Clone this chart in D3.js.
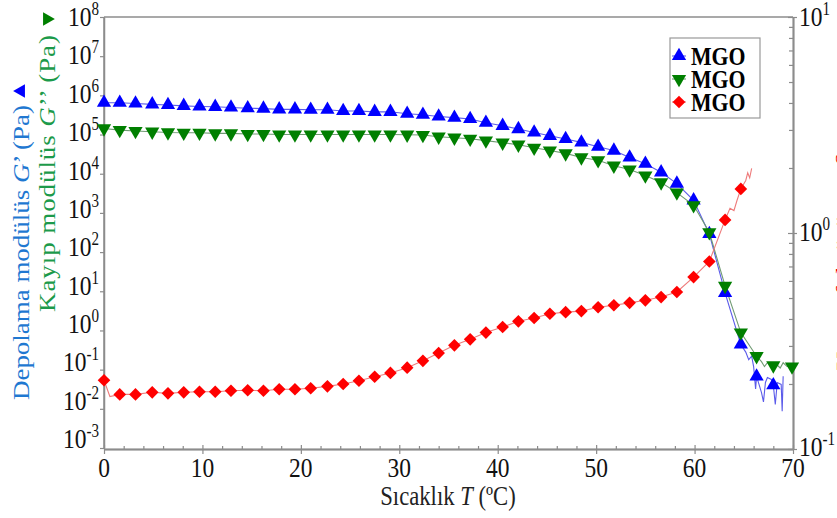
<!DOCTYPE html>
<html>
<head>
<meta charset="utf-8">
<script src="https://cdn.jsdelivr.net/npm/d3@7"></script>
<style>
html, body { margin: 0; padding: 0; background: #fff; }
svg { display: block; font-family: "Liberation Serif", "Times New Roman", serif; }
</style>
</head>
<body>
<div id="chart"></div>
<script>
// temperature of each measured point (deg C)
const temps = [0, 1.6, 3.2, 4.9, 6.5, 8.1, 9.7, 11.3, 12.9, 14.6, 16.2, 17.8, 19.4, 21.0, 22.7,
    24.3, 25.9, 27.5, 29.1, 30.8, 32.4, 34.0, 35.6, 37.2, 38.8, 40.5, 42.1, 43.7, 45.3, 46.9,
    48.5, 50.2, 51.8, 53.4, 55.0, 56.6, 58.2, 59.9, 61.5, 63.1, 64.7, 66.3, 68.0, 69.9];

// storage modulus G' (Pa)
const storageG = [6.5e5, 6.5e5, 6.2e5, 5.9e5, 5.7e5, 5.4e5, 5.2e5, 5.1e5, 4.9e5, 4.7e5, 4.6e5,
    4.4e5, 4.4e5, 4.3e5, 4.3e5, 4.0e5, 4.0e5, 3.8e5, 3.8e5, 3.4e5, 3.2e5, 2.9e5, 2.7e5, 2.5e5,
    2.0e5, 1.67e5, 1.38e5, 1.13e5, 9.3e4, 7.7e4, 6.3e4, 4.9e4, 3.9e4, 2.6e4, 1.8e4, 1.09e4,
    5.6e3, 2.1e3, 290, 9.1, 0.44, 0.067, 0.040];

// loss modulus G'' (Pa)
const lossG = [1.43e5, 1.30e5, 1.23e5, 1.18e5, 1.13e5, 1.11e5, 1.11e5, 1.07e5, 1.07e5, 1.03e5,
    1.03e5, 1.0e5, 1.0e5, 1.0e5, 1.0e5, 1.0e5, 1.0e5, 1.0e5, 1.0e5, 0.99e5, 0.97e5, 8.8e4, 8.3e4,
    7.8e4, 7.0e4, 6.2e4, 5.5e4, 4.6e4, 3.9e4, 3.3e4, 2.6e4, 2.2e4, 1.6e4, 1.28e4, 9.0e3, 6.0e3,
    3.3e3, 1.56e3, 320, 13.7, 0.88, 0.22, 0.128, 0.12];

// loss factor (right axis)
const tanDelta = [0.208, 0.179, 0.179, 0.183, 0.181, 0.183, 0.184, 0.184, 0.186, 0.187, 0.186,
    0.189, 0.189, 0.191, 0.195, 0.200, 0.207, 0.216, 0.225, 0.238, 0.256, 0.278, 0.302, 0.322,
    0.346, 0.367, 0.390, 0.404, 0.423, 0.430, 0.435, 0.453, 0.463, 0.475, 0.488, 0.505, 0.533,
    0.625, 0.738, 1.15, 1.60];

// raw points between markers (drawn on the line only)
const storageRawT = [65.2, 65.5, 65.8, 66.0, 66.2, 66.8, 67.0, 67.2, 67.4, 67.8, 68.2, 68.4, 68.8, 68.9, 69.0];
const storageRawV = [0.28, 0.18, 0.22, 0.12, 0.032, 0.026, 0.015, 0.047, 0.063, 0.056, 0.013, 0.047, 0.042, 0.0087, 0.068];
const lossRawT = [66.8, 67.1, 67.4, 68.4, 68.7, 69.0, 69.4];
const lossRawV = [0.16, 0.12, 0.15, 0.13, 0.11, 0.15, 0.12];
const tanRawT = [0.6, 63.6, 64.0, 64.3, 65.2, 65.4, 65.6, 65.8];
const tanRawV = [0.175, 1.30, 1.27, 1.41, 1.75, 1.90, 1.80, 1.99];

const xTicks = [0, 10, 20, 30, 40, 50, 60, 70];
const xMinorTicks = [2, 4, 6, 8, 12, 14, 16, 18, 22, 24, 26, 28, 32, 34, 36, 38, 42, 44, 46, 48, 52, 54, 56, 58, 62, 64, 66, 68];
const leftExps = [-3, -2, -1, 0, 1, 2, 3, 4, 5, 6, 7, 8];
const rightExps = [-1, 0, 1];
const rightMinor = [0.2, 0.3, 0.4, 0.5, 0.6, 0.7, 0.8, 0.9, 2, 3, 4, 5, 6, 7, 8, 9];
const legendNames = ['MGO', 'MGO', 'MGO'];

const W = 837, H = 518;
const plot = { left: 104, right: 793, top: 17, bottom: 449 };
const SQ = 0.84; // the picture is squeezed horizontally, text too
const axisColor = '#8c8c8c';
const blue = '#0000ff', green = '#007f00', red = '#ff0000';

const svg = d3.select('#chart').append('svg').attr('width', W).attr('height', H);

const x = d3.scaleLinear().domain([0, 70]).range([plot.left, plot.right]);
const yL = d3.scaleLog().domain([1e-3, 1e8]).range([448, plot.top]);
const yR = d3.scaleLog().domain([0.1, 10]).range([plot.bottom, plot.top]);

function styleAxis(g) {
    g.selectAll('path.domain').attr('stroke', axisColor).attr('stroke-width', 1.5);
    g.selectAll('.tick line').attr('stroke', axisColor).attr('stroke-width', 1.2);
}

// top frame
svg.append('line')
    .attr('x1', plot.left).attr('x2', plot.right)
    .attr('y1', plot.top).attr('y2', plot.top)
    .attr('stroke', axisColor).attr('stroke-width', 1.5);

// bottom axis
svg.append('g').attr('transform', `translate(0,${plot.bottom})`)
    .call(d3.axisBottom(x).tickValues(xMinorTicks).tickSizeInner(-3).tickSizeOuter(0).tickFormat(''))
    .call(styleAxis);
svg.append('g').attr('transform', `translate(0,${plot.bottom})`)
    .call(d3.axisBottom(x).tickValues(xTicks).tickSizeInner(5).tickSizeOuter(0).tickFormat(''))
    .call(styleAxis);
svg.append('g').attr('transform', `translate(0,${plot.bottom})`)
    .call(d3.axisBottom(x).tickValues(xTicks).tickSizeInner(-4).tickSizeOuter(0).tickFormat(''))
    .call(styleAxis);

// left axis (line runs the full plot height)
svg.append('line')
    .attr('x1', plot.left).attr('x2', plot.left)
    .attr('y1', plot.top).attr('y2', plot.bottom)
    .attr('stroke', axisColor).attr('stroke-width', 1.5);
svg.append('g').attr('transform', `translate(${plot.left},0)`)
    .call(d3.axisLeft(yL).tickValues(leftExps.map(e => Math.pow(10, e))).tickSizeInner(4).tickSizeOuter(0).tickFormat(''))
    .call(styleAxis);

// right axis
svg.append('g').attr('transform', `translate(${plot.right},0)`)
    .call(d3.axisRight(yR).tickValues(rightMinor).tickSizeInner(-4).tickSizeOuter(0).tickFormat(''))
    .call(styleAxis);
svg.append('g').attr('transform', `translate(${plot.right},0)`)
    .call(d3.axisRight(yR).tickValues(rightExps.map(e => Math.pow(10, e))).tickSizeInner(4).tickSizeOuter(0).tickFormat(''))
    .call(styleAxis);
svg.append('g').attr('transform', `translate(${plot.right},0)`)
    .call(d3.axisRight(yR).tickValues(rightExps.map(e => Math.pow(10, e))).tickSizeInner(-5).tickSizeOuter(0).tickFormat(''))
    .call(styleAxis);

// tick labels
function powLabel(g, exp, anchor) {
    const t = g.append('text').attr('font-size', 28).attr('fill', '#111').attr('text-anchor', anchor);
    t.append('tspan').text('10');
    t.append('tspan').attr('font-size', 18).attr('dy', -11).text(String(exp));
}

// labels sit a little tighter than the ticks, like in the source figure
svg.append('g').selectAll('g').data(leftExps).join('g')
    .attr('transform', e => `translate(${plot.left - 5},${yL(Math.pow(10, e)) + 9 - (8 - e) * 0.8}) scale(${SQ},1)`)
    .each(function (e) { powLabel(d3.select(this), e, 'end'); });

svg.append('g').selectAll('g').data(rightExps).join('g')
    .attr('transform', e => `translate(${plot.right + 6},${yR(Math.pow(10, e)) + 8 + e}) scale(${SQ},1)`)
    .each(function (e) { powLabel(d3.select(this), e, 'start'); });

svg.append('g').selectAll('text').data(xTicks).join('text')
    .attr('transform', d => `translate(${x(d)},477) scale(${SQ},1)`)
    .attr('text-anchor', 'middle').attr('font-size', 28).attr('fill', '#111')
    .text(d => d);

// axis titles
const xt = svg.append('text')
    .attr('transform', `translate(448,505) scale(${SQ},1)`)
    .attr('text-anchor', 'middle').attr('font-size', 27).attr('fill', '#222');
xt.append('tspan').text('Sıcaklık ');
xt.append('tspan').attr('font-style', 'italic').text('T');
xt.append('tspan').text(' (ºC)');

const bl = svg.append('text')
    .attr('transform', `translate(29,400) scale(${SQ},1) rotate(-90)`)
    .attr('font-size', 27).attr('fill', '#1f78d1')
    .attr('textLength', 295).attr('lengthAdjust', 'spacing');
bl.append('tspan').text('Depolama modülüs ');
bl.append('tspan').attr('font-style', 'italic').text('G');
bl.append('tspan').text('’ (Pa)');

const gl = svg.append('text')
    .attr('transform', `translate(55,312) scale(${SQ},1) rotate(-90)`)
    .attr('font-size', 27).attr('fill', '#1c9a4a')
    .attr('textLength', 277).attr('lengthAdjust', 'spacing');
gl.append('tspan').text('Kayıp modülüs ');
gl.append('tspan').attr('font-style', 'italic').text('G');
gl.append('tspan').text('’’ (Pa)');

// series symbols at the end of the axis titles
const titleSym = d3.symbol().type(d3.symbolTriangle).size(80);
svg.append('path').attr('d', titleSym).attr('fill', blue)
    .attr('transform', 'translate(21,91) rotate(-90)');
svg.append('path').attr('d', titleSym).attr('fill', green)
    .attr('transform', 'translate(47,19) rotate(90)');

// right title, mostly cut off by the page edge
svg.append('text')
    .attr('transform', `translate(852,262) scale(${SQ},1) rotate(-90)`)
    .attr('text-anchor', 'middle').attr('font-size', 28).attr('fill', red)
    .text('Kayıp faktörü tan δ');

// series
const storagePts = temps.slice(0, storageG.length).map((t, i) => ({ t, v: storageG[i] }));
const lossPts = temps.slice(0, lossG.length).map((t, i) => ({ t, v: lossG[i] }));
const tanPts = temps.slice(0, tanDelta.length).map((t, i) => ({ t, v: tanDelta[i] }));

function withRaw(pts, rawT, rawV) {
    return pts.concat(rawT.map((t, i) => ({ t, v: rawV[i] }))).sort((a, b) => a.t - b.t);
}

const lineL = d3.line().x(d => x(d.t)).y(d => yL(d.v));
const lineR = d3.line().x(d => x(d.t)).y(d => yR(d.v));

svg.append('path').datum(withRaw(storagePts, storageRawT, storageRawV))
    .attr('fill', 'none').attr('stroke', '#5b5bea').attr('stroke-width', 1.1).attr('d', lineL);
svg.append('path').datum(withRaw(lossPts, lossRawT, lossRawV))
    .attr('fill', 'none').attr('stroke', '#6f9a72').attr('stroke-width', 1.1).attr('d', lineL);
svg.append('path').datum(withRaw(tanPts, tanRawT, tanRawV))
    .attr('fill', 'none').attr('stroke', '#ee7b7b').attr('stroke-width', 1.1).attr('d', lineR);

const triSym = d3.symbol().type(d3.symbolTriangle).size(88);
const diaSym = d3.symbol().type(d3.symbolSquare).size(80);

svg.append('g').selectAll('path').data(storagePts).join('path')
    .attr('d', triSym).attr('fill', blue)
    .attr('transform', d => `translate(${x(d.t)},${yL(d.v)})`);
svg.append('g').selectAll('path').data(lossPts).join('path')
    .attr('d', triSym).attr('fill', green)
    .attr('transform', d => `translate(${x(d.t)},${yL(d.v)}) rotate(180)`);
svg.append('g').selectAll('path').data(tanPts).join('path')
    .attr('d', diaSym).attr('fill', red)
    .attr('transform', d => `translate(${x(d.t)},${yR(d.v)}) rotate(45)`);

// legend
const lg = svg.append('g').attr('transform', 'translate(670,38)');
lg.append('rect').attr('width', 90).attr('height', 80)
    .attr('fill', '#fff').attr('stroke', '#999').attr('stroke-width', 1.2);
const legendStyles = [
    { color: blue, line: '#5b5bea', sym: triSym, rot: 0 },
    { color: green, line: '#6f9a72', sym: triSym, rot: 180 },
    { color: red, line: '#ee7b7b', sym: diaSym, rot: 45 }
];
const rows = lg.selectAll('g').data(legendNames).join('g')
    .attr('transform', (d, i) => `translate(0,${18 + i * 23})`);
rows.append('line').attr('x1', 2).attr('x2', 16).attr('y1', 0).attr('y2', 0)
    .attr('stroke', (d, i) => legendStyles[i].line).attr('stroke-width', 1.1);
rows.append('path')
    .attr('d', (d, i) => legendStyles[i].sym())
    .attr('fill', (d, i) => legendStyles[i].color)
    .attr('transform', (d, i) => `translate(9,0) rotate(${legendStyles[i].rot})`);
rows.append('text')
    .attr('transform', `translate(21,9) scale(${SQ},1)`)
    .attr('font-size', 26).attr('font-weight', 'bold').attr('fill', '#000')
    .text(d => d);
</script>
</body>
</html>
